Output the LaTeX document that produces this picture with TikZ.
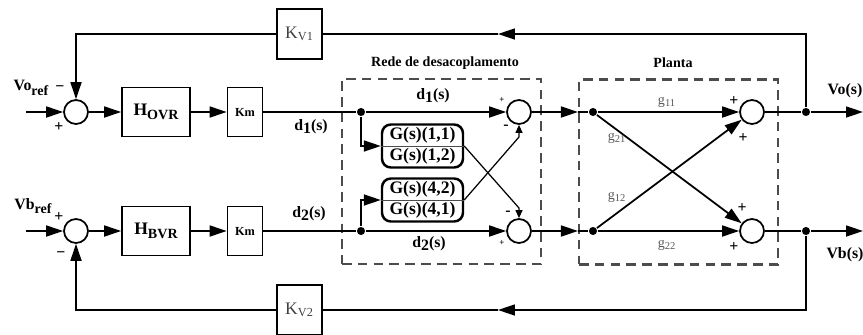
\documentclass[tikz,border=0pt]{standalone}
\usepackage{fontspec}
\setmainfont{Liberation Serif}
\usetikzlibrary{arrows.meta}
\begin{document}
\begin{tikzpicture}[
	x=0.02cm, y=-0.02cm, line width=1pt,
	>={Triangle[length=3.4mm,width=2.2mm]},
	block/.style={ draw, line width=1pt, inner sep=0pt, minimum height=0.98cm, font=\bfseries },
	gblock/.style={ draw, line width=1.4pt, rounded corners=5pt, inner sep=0pt, minimum width=1.62cm, minimum height=0.86cm, align=center, font=\bfseries },
	kblock/.style={ draw, line width=0.8pt, inner sep=0pt, minimum width=0.9cm, minimum height=1cm, text=black!75 },
	sumnode/.style={ circle, draw, line width=1pt, inner sep=0pt, minimum size=0.48cm },
	dot/.style={ circle, fill, inner sep=0pt, minimum size=4.6pt },
	dashbox/.style={ draw=black!70, line width=1.2pt, dash pattern=on 5.5pt off 3.5pt, inner sep=0pt, minimum width=3.98cm, minimum height=3.7cm },
	sgn/.style={ font=\bfseries\small, inner sep=0pt },
	glabel/.style={ font=\footnotesize, text=black!65, inner sep=0pt },
	dlabel/.style={ font=\bfseries\small, inner sep=0pt },
	thinarrow/.style={ line width=0.7pt, -{Triangle[length=1.6mm,width=1.4mm]} }
]
\useasboundingbox (0,0) rectangle (863,335);

\node at (441.5,171.5) (rede) [dashbox] {};
\node at (678.5,172) (planta) [dashbox] {};
\node at (445,63) [font=\bfseries\footnotesize] {Rede de desacoplamento};
\node at (673,63) [font=\bfseries\footnotesize] {Planta};

\node at (76,112) (sumo) [sumnode] {};
\node at (76,231) (sumb) [sumnode] {};
\node at (156,112) (hovr) [block, minimum width=1.36cm] {H\raisebox{-0.5ex}{\footnotesize OVR}};
\node at (156,231) (hbvr) [block, minimum width=1.36cm] {H\raisebox{-0.5ex}{\footnotesize BVR}};
\node at (245,112) (kmo) [block, minimum width=0.7cm, font=\bfseries\scriptsize] {Km};
\node at (245,231) (kmb) [block, minimum width=0.7cm, font=\bfseries\scriptsize] {Km};
\node at (299.5,34) (kvo) [kblock] {K\textsubscript{V1}};
\node at (299.5,310) (kvb) [kblock] {K\textsubscript{V2}};

\node at (361,112) (dao) [dot] {};
\node at (361,231) (dab) [dot] {};
\node at (422.5,146) (gone) [gblock] {G(s)(1,1)\\G(s)(1,2)};
\node at (422.5,200) (gtwo) [gblock] {G(s)(4,2)\\G(s)(4,1)};
\draw[line width=0.5pt, black!70] (gone.west) -- (gone.east);
\draw[line width=0.5pt, black!70] (gtwo.west) -- (gtwo.east);
\node at (519,112) (sumdo) [sumnode] {};
\node at (519,231) (sumdb) [sumnode] {};

\node at (593,112) (pao) [dot] {};
\node at (593,231) (pab) [dot] {};
\node at (752,112) (sumpo) [sumnode] {};
\node at (752,231) (sumpb) [sumnode] {};
\node at (806,112) (oo) [dot] {};
\node at (806,231) (ob) [dot] {};

\coordinate (ino) at (26,112);
\coordinate (inb) at (26,231);
\coordinate (outo) at (863,112);
\coordinate (outb) at (863,231);
\coordinate (fbo) at (498,34);
\coordinate (fbb) at (498,310);
\coordinate (xo) at (519,137);
\coordinate (xb) at (519,208);

\draw[->] (ino) -- (sumo);
\draw[->] (sumo) -- (hovr);
\draw[->] (hovr) -- (kmo);
\draw (kmo) -- (dao);
\draw[->] (dao) -- (sumdo);
\draw[->] (dao) |- (gone.west);
\draw[->] (sumdo) -- (planta.west |- sumdo);
\draw (planta.west |- sumdo) -- (pao);

\draw[->] (inb) -- (sumb);
\draw[->] (sumb) -- (hbvr);
\draw[->] (hbvr) -- (kmb);
\draw (kmb) -- (dab);
\draw[->] (dab) -- (sumdb);
\draw[->] (dab) |- (gtwo.west);
\draw[->] (sumdb) -- (planta.west |- sumdb);
\draw (planta.west |- sumdb) -- (pab);

\draw[thinarrow] (gone.east) -- (xb) -- (sumdb.north);
\draw[thinarrow] (gtwo.east) -- (xo) -- (sumdo.south);

\draw[->] (pao) -- (sumpo);
\draw[->] (pao) -- (sumpb);
\draw[->] (pab) -- (sumpb);
\draw[->] (pab) -- (sumpo);
\draw (sumpo) -- (oo);
\draw (sumpb) -- (ob);
\draw[->] (oo) -- (outo);
\draw[->] (ob) -- (outb);

\draw[->] (oo) |- (fbo);
\draw (fbo) -- (kvo);
\draw[->] (kvo) -| (sumo);
\draw[->] (ob) |- (fbb);
\draw (fbb) -- (kvb);
\draw[->] (kvb) -| (sumb);

\node at (31,88) [dlabel] {Vo\raisebox{-0.6ex}{\footnotesize ref}};
\node at (33,206) [dlabel] {Vb\raisebox{-0.6ex}{\footnotesize ref}};
\node at (60,89) [sgn] {−};
\node at (59,127) [sgn] {+};
\node at (59,217) [sgn] {+};
\node at (61,255) [sgn] {−};

\node at (311,127) [dlabel] {d\raisebox{-0.4ex}{1}(s)};
\node at (309,214) [dlabel] {d\raisebox{-0.4ex}{2}(s)};
\node at (433,96) [dlabel] {d\raisebox{-0.4ex}{1}(s)};
\node at (429,244) [dlabel] {d\raisebox{-0.4ex}{2}(s)};
\node at (502,100) [sgn, font=\bfseries\tiny] {+};
\node at (506,127) [sgn] {-};
\node at (508,213) [sgn] {-};
\node at (502,243) [sgn, font=\bfseries\tiny] {+};

\node at (667,102) [glabel] {g\textsubscript{11}};
\node at (617,138) [glabel] {g\textsubscript{21}};
\node at (617,197) [glabel] {g\textsubscript{12}};
\node at (667,245) [glabel] {g\textsubscript{22}};
\node at (734,101) [sgn] {+};
\node at (743,138) [sgn] {+};
\node at (742,208) [sgn] {+};
\node at (734,247) [sgn] {+};

\node at (845,91) [dlabel] {Vo(s)};
\node at (845,255) [dlabel] {Vb(s)};

\end{tikzpicture}
\end{document}
